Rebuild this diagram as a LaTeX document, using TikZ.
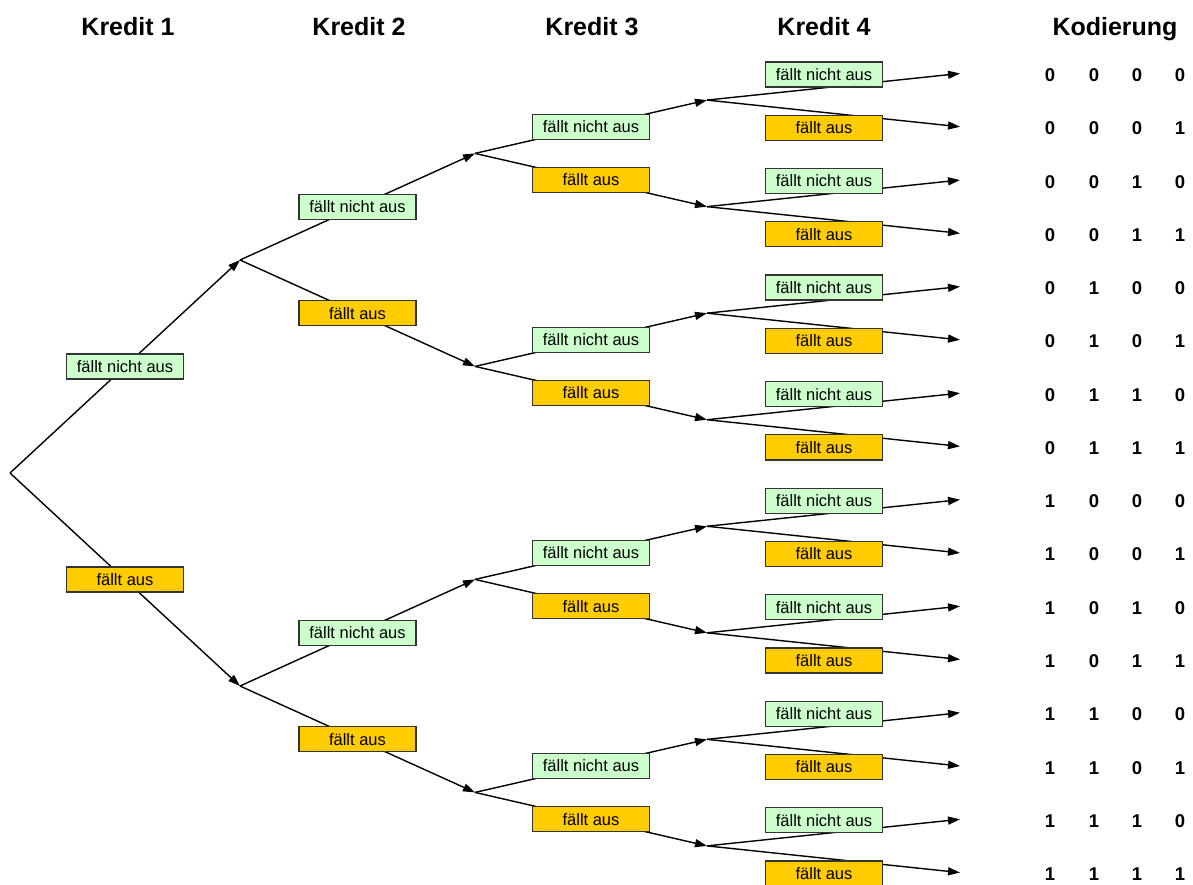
\documentclass[tikz,border=0pt]{standalone}
\usepackage{fontspec}
\setmainfont{Liberation Sans}
\usetikzlibrary{arrows.meta,calc}
\definecolor{nichtaus}{HTML}{CCFFCC}
\definecolor{aus}{HTML}{FFCC00}
\tikzset{
	ast/.style={line width=1.4pt, -{Triangle[length=12pt,width=8pt]}},
	boxnicht/.style={rectangle, draw=black!80, line width=1.2pt, fill=nichtaus, minimum width=117pt, minimum height=25pt, inner sep=0pt, text centered, font=\fontsize{16.5}{19}\selectfont},
	boxaus/.style={boxnicht, fill=aus},
	kopf/.style={anchor=base, font=\bfseries\fontsize{25}{30}\selectfont},
	bit/.style={anchor=base, inner sep=1pt, font=\bfseries\fontsize{18.5}{22}\selectfont}
}
\begin{document}
\begin{tikzpicture}[x=1pt,y=-1pt]
	\useasboundingbox (0,0) rectangle (1193,884);
	% Kopfzeile
	\node[kopf] at (128,35) (K1) {Kredit 1};
	\node[kopf] at (359,35) (K2) {Kredit 2};
	\node[kopf] at (592,35) (K3) {Kredit 3};
	\node[kopf] at (824,35) (K4) {Kredit 4};
	\node[kopf] at (1115,35) (KD) {Kodierung};
	% Verzweigungspunkte
	\node[shape=coordinate] at (10,473) (R) {};
	\foreach \i in {1,2} \node[shape=coordinate] at (240,{260+426*(\i-1)}) (A\i) {};
	\foreach \i in {1,...,4} \node[shape=coordinate] at (475,{153.4+213*(\i-1)}) (B\i) {};
	\foreach \i in {1,...,8} \node[shape=coordinate] at (707,{100.1+106.54*(\i-1)}) (C\i) {};
	\foreach \i in {1,...,16} \node[shape=coordinate] at (960,{73.5+53.27*(\i-1)}) (D\i) {};
	% Aeste
	\draw[ast] (R) -- (A1);
	\draw[ast] (R) -- (A2);
	\foreach \i [evaluate=\i as \j using int(2*\i-1), evaluate=\i as \k using int(2*\i)] in {1,2} {
		\draw[ast] (A\i) -- (B\j);
		\draw[ast] (A\i) -- (B\k);
	}
	\foreach \i [evaluate=\i as \j using int(2*\i-1), evaluate=\i as \k using int(2*\i)] in {1,...,4} {
		\draw[ast] (B\i) -- (C\j);
		\draw[ast] (B\i) -- (C\k);
	}
	\foreach \i [evaluate=\i as \j using int(2*\i-1), evaluate=\i as \k using int(2*\i)] in {1,...,8} {
		\draw[ast] (C\i) -- (D\j);
		\draw[ast] (C\i) -- (D\k);
	}
	% Beschriftungen
	\node[boxnicht] at ($(R)!0.5!(A1)$) (NA1) {fällt nicht aus};
	\node[boxaus] at ($(R)!0.5!(A2)$) (NA2) {fällt aus};
	\foreach \i [evaluate=\i as \j using int(2*\i-1), evaluate=\i as \k using int(2*\i)] in {1,2} {
		\node[boxnicht] at ($(A\i)!0.5!(B\j)$) (NB\j) {fällt nicht aus};
		\node[boxaus] at ($(A\i)!0.5!(B\k)$) (NB\k) {fällt aus};
	}
	\foreach \i [evaluate=\i as \j using int(2*\i-1), evaluate=\i as \k using int(2*\i)] in {1,...,4} {
		\node[boxnicht] at ($(B\i)!0.5!(C\j)$) (NC\j) {fällt nicht aus};
		\node[boxaus] at ($(B\i)!0.5!(C\k)$) (NC\k) {fällt aus};
	}
	\foreach \i [evaluate=\i as \j using int(2*\i-1), evaluate=\i as \k using int(2*\i)] in {1,...,8} {
		\node[boxnicht] at ([xshift=-136pt,yshift=-1pt]D\j) (ND\j) {fällt nicht aus};
		\node[boxaus] at ([xshift=-136pt,yshift=-1pt]D\k) (ND\k) {fällt aus};
	}
	% Kodierung
	\foreach \r/\a/\b/\c/\d in {1/0/0/0/0, 2/0/0/0/1, 3/0/0/1/0, 4/0/0/1/1, 5/0/1/0/0, 6/0/1/0/1, 7/0/1/1/0, 8/0/1/1/1, 9/1/0/0/0, 10/1/0/0/1, 11/1/0/1/0, 12/1/0/1/1, 13/1/1/0/0, 14/1/1/0/1, 15/1/1/1/0, 16/1/1/1/1} {
		\node[bit] at ([xshift=90pt,yshift=-8pt]D\r) (Z\r a) {\a};
		\node[bit] at ([xshift=134pt,yshift=-8pt]D\r) (Z\r b) {\b};
		\node[bit] at ([xshift=177pt,yshift=-8pt]D\r) (Z\r c) {\c};
		\node[bit] at ([xshift=220pt,yshift=-8pt]D\r) (Z\r d) {\d};
	}
\end{tikzpicture}
\end{document}
